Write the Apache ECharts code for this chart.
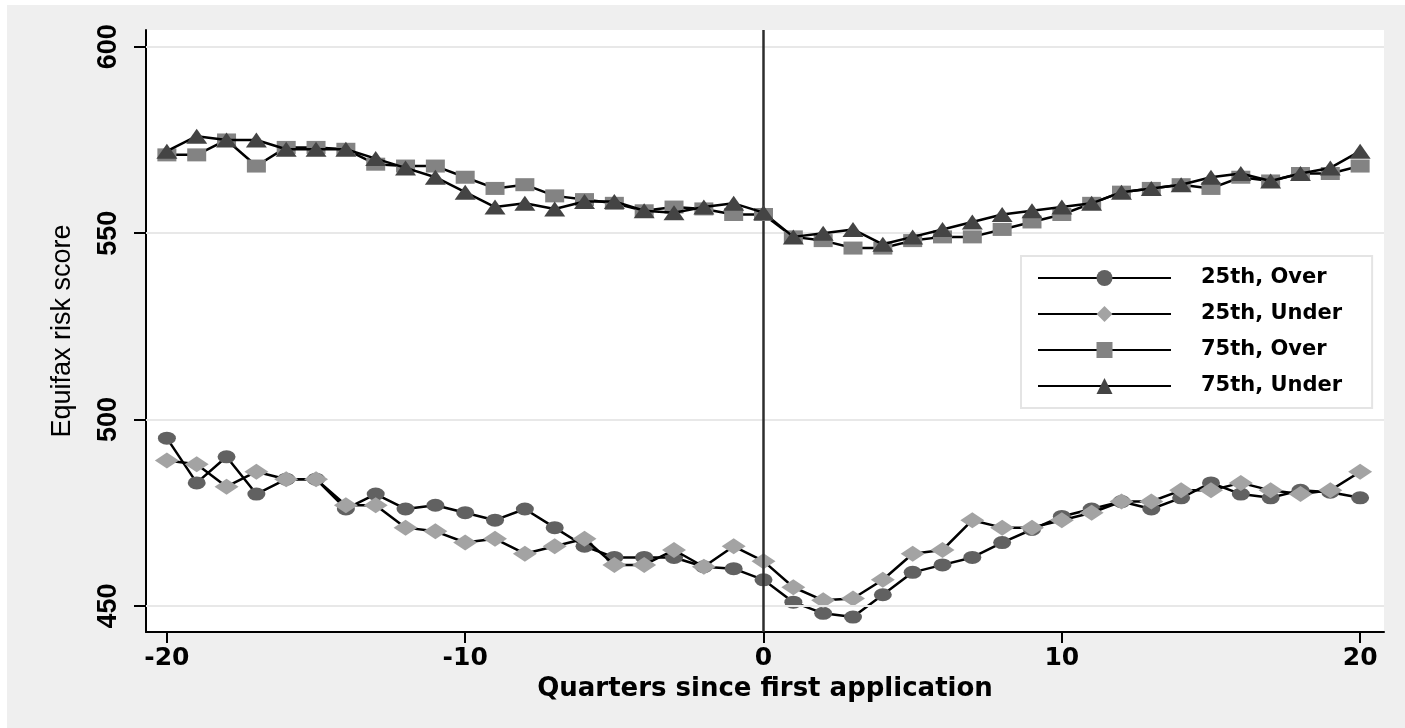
<!DOCTYPE html>
<html>
<head>
<meta charset="utf-8">
<script src="https://cdn.jsdelivr.net/npm/echarts@6/dist/echarts.min.js"></script>
<style>
  html, body { margin: 0; padding: 0; background: #ffffff; }
  #chart { width: 1405px; height: 728px; }
</style>
</head>
<body>
<div id="chart"></div>
<script>
// Quarters relative to the first application
const quarters = [-20, -19, -18, -17, -16, -15, -14, -13, -12, -11, -10, -9, -8, -7, -6, -5, -4, -3, -2, -1,
                  0, 1, 2, 3, 4, 5, 6, 7, 8, 9, 10, 11, 12, 13, 14, 15, 16, 17, 18, 19, 20];

// Equifax risk score by percentile and group
const p25Over  = [495, 483, 490, 480, 484, 484, 476, 480, 476, 477, 475, 473, 476, 471, 466, 463, 463, 463, 460.5, 460,
                  457, 451, 448, 447, 453, 459, 461, 463, 467, 470.5, 474, 476, 478, 476, 479, 483, 480, 479, 481, 480.5, 479];
const p25Under = [489, 488, 482, 486, 484, 484, 477, 477, 471, 470, 467, 468, 464, 466, 468, 461, 461, 465, 460.5, 466,
                  462, 455, 451.5, 452, 457, 464, 465, 473, 471, 471, 473, 475, 478, 478, 481, 481, 483, 481, 480, 481, 486];
const p75Over  = [571, 571, 575, 568, 573, 573, 572.5, 568.5, 568, 568, 565, 562, 563, 560, 559, 558, 556, 557, 556.5, 555,
                  555, 549, 548, 546, 546, 548, 549, 549, 551, 553, 555, 558, 561, 562, 563, 562, 565, 564, 566, 566, 568];
const p75Under = [572, 576, 575, 575, 572.5, 572.5, 572.5, 570, 567.5, 565, 561, 557, 558, 556.5, 558.5, 558.5, 556, 555.5, 557, 558,
                  555.5, 549, 550, 551, 547, 549, 551, 553, 555, 556, 557, 558, 561, 562, 563, 565, 566, 564, 566, 567.5, 572];

const seriesNames = ['25th, Over', '25th, Under', '75th, Over', '75th, Under'];
const yTicks = [450, 500, 550, 600];
const xTicks = [-20, -10, 0, 10, 20];
const eventQuarter = 0;

const pairs = vals => quarters.map((q, i) => [q, vals[i]]);

const chart = echarts.init(document.getElementById('chart'), null, { renderer: 'canvas' });

const lineStyle = { color: '#000000', width: 2.5 };

const option = {
  animation: false,
  backgroundColor: '#ffffff',
  graphic: [
    { type: 'rect', z: -10, silent: true,
      shape: { x: 7, y: 5, width: 1398, height: 723 },
      style: { fill: '#efefef' } },
    { type: 'rect', z: -9, silent: true,
      shape: { x: 146, y: 30, width: 1238, height: 602 },
      style: { fill: '#ffffff' } }
  ],
  grid: { left: 146, right: 21, top: 30, bottom: 96, outerBoundsMode: 'none', containLabel: false },
  xAxis: {
    type: 'value', min: -20.7, max: 20.8,
    name: 'Quarters since first application',
    nameLocation: 'middle', nameGap: 41,
    nameTextStyle: { fontFamily: 'DejaVu Sans', fontWeight: 'bold', fontSize: 26, color: '#000' },
    axisLine: { onZero: false, lineStyle: { color: '#000', width: 2 } },
    axisTick: { length: 11, lineStyle: { color: '#000', width: 2 }, customValues: xTicks },
    axisLabel: { customValues: xTicks, margin: 14, color: '#000',
      fontFamily: 'DejaVu Sans', fontWeight: 'bold', fontSize: 25 },
    splitLine: { show: false }
  },
  yAxis: {
    type: 'value', min: 443, max: 604.5,
    name: 'Equifax risk score',
    nameLocation: 'middle', nameRotate: 90, nameGap: 70,
    nameTextStyle: { fontFamily: 'Liberation Sans', fontSize: 27, color: '#000' },
    axisLine: { onZero: false, lineStyle: { color: '#000', width: 2 } },
    axisTick: { length: 12, lineStyle: { color: '#000', width: 2 }, customValues: yTicks },
    axisLabel: { customValues: yTicks, rotate: 90, margin: 24, color: '#000',
      fontFamily: '"Liberation Sans Narrow", "Liberation Sans"', fontWeight: 'bold', fontSize: 27 },
    splitLine: { show: false }
  },
  legend: {
    orient: 'vertical', left: 1021, top: 256,
    data: seriesNames,
    backgroundColor: '#ffffff', borderColor: '#e4e4e4', borderWidth: 2, borderRadius: 0,
    padding: [10, 30, 10, 16],
    itemWidth: 133, itemHeight: 20, itemGap: 12,
    textStyle: { fontFamily: 'DejaVu Sans', fontWeight: 'bold', fontSize: 21, color: '#000',
      lineHeight: 24, padding: [0, 0, 0, 25] },
    selectedMode: false
  },
  series: [
    {
      name: 'reference lines', type: 'line', data: [], z: 1, silent: true,
      markLine: {
        silent: true, symbol: 'none', animation: false, label: { show: false },
        data: yTicks.map(v => ({ yAxis: v, lineStyle: { color: '#e8e8e8', width: 2, type: 'solid' } }))
          .concat([{ xAxis: eventQuarter, lineStyle: { color: '#2e2e2e', width: 2.5, type: 'solid' } }])
      }
    },
    { name: seriesNames[0], type: 'line', data: pairs(p25Over), symbol: 'circle', symbolSize: [18, 13],
      itemStyle: { color: '#616161' }, lineStyle: lineStyle, z: 3 },
    { name: seriesNames[1], type: 'line', data: pairs(p25Under), symbol: 'diamond', symbolSize: [24, 16],
      itemStyle: { color: '#a3a3a3' }, lineStyle: lineStyle, z: 4 },
    { name: seriesNames[2], type: 'line', data: pairs(p75Over), symbol: 'rect', symbolSize: [19, 13],
      itemStyle: { color: '#838383' }, lineStyle: lineStyle, z: 5 },
    { name: seriesNames[3], type: 'line', data: pairs(p75Under), symbol: 'triangle', symbolSize: [21, 15],
      itemStyle: { color: '#444444' }, lineStyle: lineStyle, z: 6 }
  ]
};

chart.setOption(option);
</script>
</body>
</html>
